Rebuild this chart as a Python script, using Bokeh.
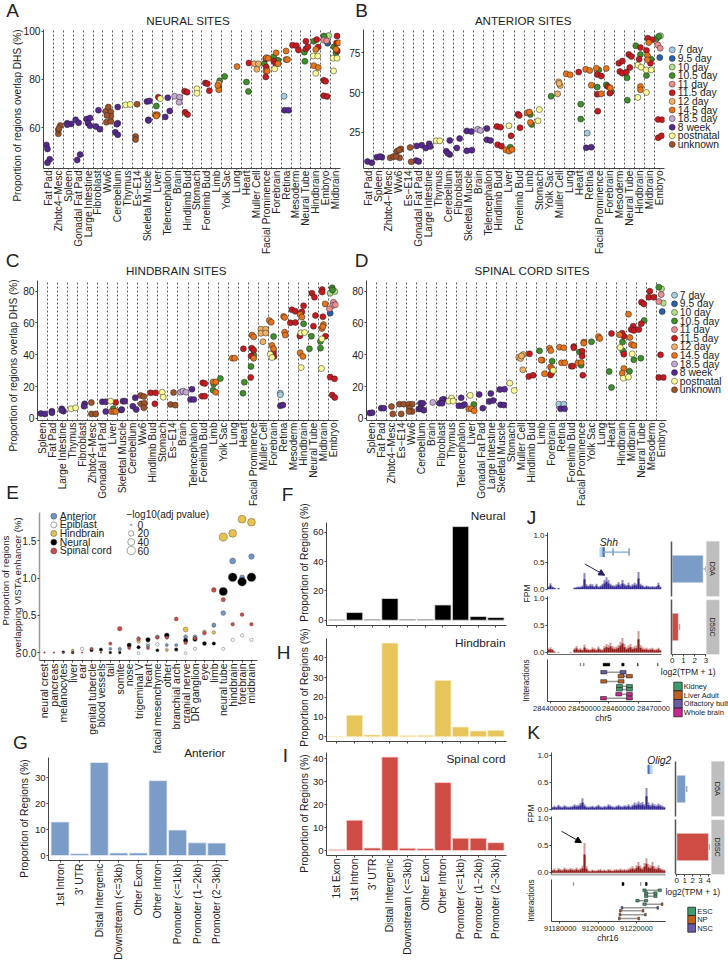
from math import pi, sqrt, nan
from bokeh.plotting import figure
from bokeh.layouts import column
from bokeh.models import Range1d, FixedTicker, Arrow, NormalHead, TeeHead, Whisker, ColumnDataSource
from bokeh.core.properties import value
from bokeh.embed import file_html
from bokeh.resources import INLINE

FONT = "Liberation Sans"
INK = "#222222"
PAGE = 0

STAGES = ["7 day", "9.5 day", "10 day", "10.5 day", "11 day", "11.5 day", "12 day", "14.5 day", "18.5 day", "8 week", "postnatal", "unknown"]
STAGE_COLORS = ["#A6CEE3", "#2B5FA8", "#B2DF8A", "#3F8F2A", "#EC8E92", "#C8191F", "#F2B266", "#E8741A", "#C6A9D4", "#56288F", "#FFFF99", "#A0522A"]

A_CATS = ["Fat Pad", "Zhbtc4−Mesc", "Spleen", "Gonadal Fat Pad", "Large Intestine", "Fibroblast", "Ww6", "Cerebellum", "Thymus", "Es−E14", "Skeletal Muscle", "Liver", "Telencephalon", "Brain", "Hindlimb Bud", "Stomach", "Forelimb Bud", "Limb", "Yolk Sac", "Lung", "Heart", "Muller Cell", "Facial Prominence", "Forebrain", "Retina", "Mesoderm", "Neural Tube", "Hindbrain", "Embryo", "Midbrain"]
B_CATS = ["Fat Pad", "Spleen", "Zhbtc4−Mesc", "Ww6", "Es−E14", "Gonadal Fat Pad", "Large Intestine", "Thymus", "Cerebellum", "Fibroblast", "Skeletal Muscle", "Brain", "Telencephalon", "Hindlimb Bud", "Liver", "Forelimb Bud", "Limb", "Stomach", "Yolk Sac", "Muller Cell", "Lung", "Heart", "Retina", "Facial Prominence", "Forebrain", "Mesoderm", "Neural Tube", "Hindbrain", "Midbrain", "Embryo"]
C_CATS = ["Spleen", "Fat Pad", "Large Intestine", "Thymus", "Fibroblast", "Zhbtc4−Mesc", "Gonadal Fat Pad", "Liver", "Skeletal Muscle", "Cerebellum", "Ww6", "Hindlimb Bud", "Stomach", "Es−E14", "Brain", "Telencephalon", "Forelimb Bud", "Limb", "Yolk Sac", "Lung", "Heart", "Facial Prominence", "Muller Cell", "Forebrain", "Retina", "Mesoderm", "Hindbrain", "Neural Tube", "Midbrain", "Embryo"]
D_CATS = ["Spleen", "Fat Pad", "Zhbtc4−Mesc", "Es−E14", "Ww6", "Cerebellum", "Brain", "Fibroblast", "Thymus", "Telencephalon", "Liver", "Gonadal Fat Pad", "Large Intestine", "Skeletal Muscle", "Stomach", "Muller Cell", "Hindlimb Bud", "Limb", "Forebrain", "Retina", "Forelimb Bud", "Facial Prominence", "Yolk Sac", "Lung", "Heart", "Hindbrain", "Midbrain", "Neural Tube", "Mesoderm", "Embryo"]

# (position along the category axis, % overlap DHS) by stage
A_POINTS = {
 "7 day": [(24.8, 73)],
 "9.5 day": [(29.2, 95)],
 "10 day": [(28.8, 98), (29.3, 98.2)],
 "10.5 day": [(11.9, 68.9), (18.2, 77), (18.3, 79.4), (18.8, 81.2), (21, 78.9), (21.2, 75), (22.8, 86.5), (23.75, 89.3), (24.2, 87.9), (26.85, 91.3), (26.9, 87.5), (27.8, 95.8), (28.85, 97.8), (29.85, 93.5), (30.05, 91)],
 "11 day": [(28.8, 96.3), (29.1, 96)],
 "11.5 day": [(12.1, 72.6), (14.75, 75.1), (15, 74.7), (14.8, 66.3), (15.05, 65.4), (16.85, 78.5), (17.05, 78.2), (17.25, 75.3), (21.25, 86.8), (22.95, 88.6), (23, 85.1), (22.95, 81), (23.75, 87.6), (23.95, 86.5), (25.65, 94.2), (26.05, 94), (26.25, 92.2), (27, 95.8), (27, 92.6), (27.2, 93.5), (28.1, 96.5), (28.25, 93.4), (28.8, 79.6), (29, 79.2), (28.8, 73.2), (29.15, 72.9), (30.15, 98), (30.1, 95.1), (30.2, 91.8)],
 "12 day": [(18.2, 78.3), (21.8, 86.5), (22.2, 86.5), (22.05, 84.2)],
 "14.5 day": [(11.8, 65.3), (12, 65.3), (11.9, 64.8), (18.2, 75.7), (18.1, 77.5), (20.05, 85.3), (23, 89), (23.2, 88.8), (22.95, 83.5), (23.1, 83.5), (24, 91), (24.2, 86.5), (25, 91.8), (25, 88.2), (25.15, 88.2), (28, 92.4), (27.8, 85.7), (28.25, 84.9), (30.3, 95.2), (30.05, 92.5)],
 "18.5 day": [(13.75, 73), (14.25, 72.6), (14.2, 70.5)],
 "8 week": [(0.8, 52.8), (0.9, 51.1), (1.13, 46.8), (0.9, 45.4), (2.9, 61.8), (3.3, 61.5), (2.9, 61.2), (3.75, 63.2), (4.05, 62), (3.9, 46.5), (4.2, 48.8), (4.85, 63.5), (5.2, 64), (5, 61.8), (5.2, 60.7), (5.8, 60.4), (6.2, 59.3), (6.05, 67.2), (8, 68.5), (7.75, 58), (8, 57), (8, 61.8), (7.9, 61.4), (10.95, 70.8), (11.2, 71), (11.1, 63.2), (11.1, 62.9), (13.05, 72.4), (12.8, 64.4), (13.25, 66.9), (24.85, 67.2), (25.25, 67.2)],
 "postnatal": [(8.8, 69.4), (9.25, 69.6), (12.3, 72), (16, 76.1), (16, 74.2), (23.85, 84.4), (27.75, 89.7), (28.2, 89.7), (28, 82.5), (29.75, 88.8), (30.15, 88.8), (29.8, 83.5)],
 "unknown": [(2, 57.4), (2, 59), (2.2, 60.8), (2.05, 59.6), (6.8, 66.8), (7.05, 68.5), (7.3, 66.5), (6.85, 62.2), (7.3, 62.6), (7.3, 64.7), (6.9, 65), (9.95, 69.7), (9.8, 56.3), (9.8, 55)],
}
B_POINTS = {
 "7 day": [(22.8, 24.6)],
 "9.5 day": [(30.03, 72)],
 "10 day": [(30.1, 85.7)],
 "10.5 day": [(15.13, 15.8), (17.13, 36.3), (17.26, 30), (19.2, 47.8), (22.15, 42.8), (22.15, 33.4), (23.95, 64.3), (23.8, 53.5), (24.7, 54.9), (25.2, 50.5), (26.77, 59.3), (26.8, 45.3), (27.64, 79.4), (28.1, 74), (29.17, 71), (28.7, 60.8), (29.7, 83.8), (29.93, 85.3)],
 "11 day": [(29.83, 80), (30.07, 77.9)],
 "11.5 day": [(13.8, 28.8), (14.15, 28.3), (13.87, 17.3), (14.25, 16.4), (15.2, 22.9), (15.9, 36.5), (16.03, 35.7), (16.1, 28), (21.95, 62.9), (23.8, 61.4), (24.2, 60.4), (23.8, 49), (23.85, 38.4), (24.85, 53.9), (25.05, 49.7), (25.95, 68.5), (26.3, 69.8), (26.05, 63.3), (26.3, 62.2), (26.94, 74), (27.2, 72.7), (27.04, 65.8), (26.7, 62.9), (28.1, 78.3), (27.97, 71), (28.83, 84.2), (28.7, 76.5), (29.1, 68.5), (29.27, 83.2), (29.87, 33.2), (30.27, 33), (29.87, 21.7), (30.2, 22.9)],
 "12 day": [(19.85, 49.3), (19.95, 56.8), (20.1, 54.5), (20.0, 55.8)],
 "14.5 day": [(14.7, 14.1), (15, 13.3), (15.3, 14.3), (16.8, 37.3), (17.03, 37.8), (17.13, 31.3), (20.7, 61.8), (21.1, 61.2), (22.65, 64.7), (23.05, 63.9), (23.7, 65.4), (23.2, 54.7), (24.2, 49.3), (24.7, 65.2), (25.1, 53), (28.1, 53.9), (28.1, 51.8), (28.93, 81.5), (28.8, 73.3), (28.8, 70.6)],
 "18.5 day": [(11.87, 27), (12.15, 26.3)],
 "8 week": [(0.9, 6.8), (1.33, 6), (1.83, 9.5), (2.33, 9.5), (2.15, 9.9), (5.8, 16.6), (6.3, 17), (5.75, 7.4), (6, 6.8), (7.05, 17.9), (6.7, 15.2), (7.15, 16.2), (9.1, 20), (8.75, 13.3), (9.1, 11.2), (8.9, 12), (10.08, 21.2), (9.8, 15.2), (10.8, 26), (11.25, 25.6), (10.8, 13.5), (11.3, 13.9), (12.8, 27.5), (12.8, 20.4), (13.15, 20), (22.7, 15.4), (23.2, 15.8)],
 "postnatal": [(7.75, 19.8), (8.1, 19.8), (15, 29.2), (18.03, 39.4), (17.9, 32.3), (27.84, 67.3), (28.17, 66), (27.84, 47), (28.67, 64.3), (29.17, 64.3), (28.7, 50.1)],
 "unknown": [(3.16, 9.1), (3.5, 9.9), (3.83, 13.3), (4.22, 14.7), (4.05, 13.9), (4.1, 9.1), (3.75, 10), (5.15, 15.6), (5.25, 6.6)],
}
C_POINTS = {
 "7 day": [(24.7, 15.9), (24.7, 14.9)],
 "9.5 day": [(29.67, 66.2)],
 "10 day": [(29.67, 78.7), (30.13, 79.8)],
 "10.5 day": [(8.06, 6.1), (18.07, 21.6), (18, 17.8), (18.73, 25.1), (21.12, 22.8), (20.98, 15.9), (22.05, 40), (21.78, 32.7), (24.03, 51.5), (27.02, 59.5), (27.8, 51.7), (27.6, 43.8), (28.7, 48.4), (28.7, 44.2), (29.87, 82.1), (29.9, 80.8)],
 "11 day": [(30, 73.1), (29.93, 71), (29.6, 68.9), (30.2, 71.5)],
 "11.5 day": [(8.29, 10.1), (11.77, 16.1), (12.27, 16.1), (12.2, 9.2), (16.97, 22.4), (17.17, 22), (16.9, 14), (17.17, 14), (21.02, 43.8), (21.85, 44.2), (22.05, 42.9), (21.78, 39.2), (21.75, 25.8), (24.03, 41.7), (24.07, 39), (25.86, 68.3), (26.2, 67.4), (25.7, 60.1), (26.2, 60.3), (27.02, 70.8), (26.85, 67), (26.65, 51.9), (27.85, 78.7), (28.1, 76.2), (28.2, 64.7), (28, 58), (28.87, 81), (28.87, 79.4), (28.94, 63.9), (29.2, 51.7), (29.67, 26), (30.1, 24.9), (29.87, 14.7), (30.13, 13.2)],
 "12 day": [(22.77, 56.1), (23.24, 56.1), (22.77, 53.5), (23.24, 53.7), (22.97, 48.2)],
 "14.5 day": [(7.86, 4.4), (8.1, 4.4), (8.3, 4.4), (18, 23), (18.27, 23), (18.27, 16.5), (19.92, 37.9), (20.15, 37.9), (21.88, 52.4), (22.05, 51.3), (22.05, 37.9), (23.6, 61.6), (23.8, 60.5), (23.87, 45.9), (24.03, 43.8), (25.03, 64.1), (25.13, 63.5), (25.13, 54.2), (25.2, 52.4), (26.68, 65.3), (26.85, 63.7), (26.68, 41.3), (26.95, 39), (29.17, 72), (29, 59), (28.84, 56.5), (28.94, 57.7)],
 "18.5 day": [(14.75, 16.5), (15, 17.2), (15.3, 16.5)],
 "8 week": [(0.83, 3.1), (1.23, 2.9), (1.93, 4.6), (1.93, 3.6), (2.92, 6.1), (3.09, 4.6), (2.9, 5.2), (5.2, 9.2), (5.14, 7.7), (6.96, 10.5), (7.3, 10.5), (7.3, 4.4), (9.02, 10.9), (9.2, 10.9), (8.85, 5.4), (8.9, 5.6), (10.24, 13), (10, 7.7), (10.34, 5.6), (15.9, 18.4), (15.75, 11.9), (16.08, 11.9), (24.7, 8), (24.96, 8.4)],
 "postnatal": [(3.85, 6.1), (4.3, 6.7), (7.79, 10.9), (12.93, 16.5), (13.03, 13.4), (23.7, 40.4), (23.87, 38.3), (26.75, 53.8), (27.12, 54), (26.78, 32), (28.84, 50), (28.8, 31.4)],
 "unknown": [(5.87, 10), (5.87, 2.9), (6.3, 2.9), (10.77, 14.5), (11.1, 13.8), (10.84, 9.2), (11.17, 9.6), (11.1, 6.7), (14.06, 16.3), (13.76, 8.8), (14.22, 8.4)],
}
D_POINTS = {
 "7 day": [(19.73, 9), (20.23, 9)],
 "9.5 day": [(30.07, 67.2)],
 "10 day": [(30, 81.5), (30.2, 72.5)],
 "10.5 day": [(11.23, 8.8), (17.8, 42.5), (19.07, 36), (19, 28.5), (21.8, 41.7), (21.97, 33.5), (23, 48.2), (24.77, 29.5), (25, 19.5), (26.1, 48), (26.13, 42.5), (27.23, 36.9), (26.8, 29.7), (28.27, 61.6), (27.93, 37.9), (29.73, 82.5)],
 "11 day": [(29.97, 77.9), (29.73, 73.5)],
 "11.5 day": [(16.8, 40.6), (16.73, 26.4), (17.17, 27.2), (18.9, 27.4), (21.23, 45.2), (21.23, 44.4), (20.97, 32.9), (21.13, 32.9), (22.07, 42.3), (22.07, 39.2), (22.13, 27.2), (25, 53.4), (26.07, 53.6), (26.23, 51.7), (26.23, 40.4), (27.17, 58), (26.97, 55.9), (27.23, 55.3), (27.73, 55.9), (27.97, 59.5), (28, 73.1), (28.23, 72), (28.73, 76.2), (28.83, 80), (29.23, 76.2), (29.9, 40), (29.73, 25.8), (30.2, 25.8)],
 "12 day": [(16.13, 30.6), (15.73, 38.5), (15.9, 37.7), (16.17, 40.2), (16, 39.3)],
 "14.5 day": [(10.73, 6.1), (11, 6.1), (11.27, 4.8), (18.07, 36.6), (17.97, 36.8), (18.3, 28.1), (18.8, 44.2), (18.93, 42.7), (18.9, 32.3), (19.05, 31.3), (19.8, 44.8), (20.23, 44.4), (20, 35), (20.33, 35), (22.23, 48), (22.23, 47.3), (21.63, 34.8), (21.97, 35.2), (23.7, 51.5), (23.83, 50.3), (25.8, 52.6), (26.23, 31.4), (26.07, 28.5), (26.7, 65.5), (26.83, 50.9), (27, 46.5), (27.23, 45.9)],
 "18.5 day": [(7.13, 10.1)],
 "8 week": [(0.83, 3.4), (1.07, 3.6), (1.97, 6.5), (2.23, 6.5), (5.9, 9.6), (6.13, 9.6), (5.73, 5.9), (5.97, 6.1), (6.23, 5.2), (8.23, 12.1), (8.07, 11.7), (7.8, 9.6), (8.07, 9.6), (9.97, 13), (9.73, 8), (10.07, 8), (10.3, 8.8), (11.77, 15.1), (12.13, 6.5), (12.93, 15.7), (12.77, 10.7), (13.17, 11.3), (13.83, 18.2), (14.3, 18.4), (13.9, 8.6), (14.23, 8.4), (19.9, 6.1), (20.3, 6.1)],
 "postnatal": [(9, 12.8), (8.73, 10.9), (9.17, 10.9), (10.87, 14.5), (14.83, 22.2), (15.27, 17.6), (19.17, 30.2), (25.87, 44.6), (26.17, 25.3), (27.07, 40.6), (26.7, 26)],
 "unknown": [(3, 7.5), (3.13, 2.9), (3.8, 9), (4.23, 9), (3.97, 2.9), (4.73, 9), (5.07, 9), (4.8, 6.5), (5.07, 4.4), (4.75, 4.4)],
}

E_CATS = ["neural crest", "pancreas", "melanocytes", "liver", "ear", "genital tubercle", "blood vessels", "tail", "somite", "nose", "trigeminal V", "heart", "facial mesenchyme", "other", "branchial arch", "cranial nerve", "DR ganglion", "eye", "limb", "neural tube", "hindbrain", "forebrain", "midbrain"]
E_SERIES = ["Anterior", "Epiblast", "Hindbrain", "Neural", "Spinal cord"]
E_COLORS = ["#6F98C8", "#FFFFFF", "#E8C24F", "#000000", "#CF4A44"]
E_ANTERIOR = [nan, nan, nan, nan, nan, .04, .04, .05, .05, .085, .19, .09, .21, .1, .1, .21, .21, nan, .37, .53, 1.23, 1.01, 1.29]
E_ANTERIOR_P = [0, 0, 0, 0, 0, 2, 2, 2, 3, 4, 5, 3, 8, 3, 3, 8, 8, 0, 8, 14, 25, 15, 22]
E_EPIBLAST = [nan, nan, nan, nan, .05, nan, nan, nan, .035, nan, -.01, .11, .11, .04, nan, -.01, .05, nan, .36, .05, .17, .23, .17]
E_EPIBLAST_P = [0, 0, 0, 0, 5, 0, 0, 0, 3, 0, 2, 5, 5, 3, 0, 2, 4, 0, 5, 3, 4, 4, 4]
E_HINDBRAIN = [nan, nan, nan, .03, nan, nan, .03, nan, nan, nan, .15, nan, nan, .03, nan, .31, nan, .28, .27, 1.55, 1.6, 1.79, 1.75]
E_HINDBRAIN_P = [0, 0, 0, 1, 0, 0, 1, 0, 0, 0, 5, 0, 0, 1, 0, 15, 0, 5, 5, 60, 55, 55, 55]
E_NEURAL = [nan, nan, .005, 0, nan, .03, .04, 0, 0, .1, .07, .17, .03, .23, .04, .16, .18, .12, .12, .82, 1.01, .95, 1.01]
E_NEURAL_P = [0, 0, 2, 2, 0, 3, 3, 2, 2, 10, 5, 12, 3, 15, 5, 12, 12, 8, 5, 60, 70, 70, 70]
E_SPINAL = [0, 0, 0, 0, 0, .05, 0, .12, .32, .06, .18, .06, .2, .2, .45, .13, .19, .26, .84, .71, .38, .51, .38]
E_SPINAL_P = [0, 0, 0, 0, 0, 3, 0, 4, 12, 3, 5, 3, 5, 5, 8, 4, 5, 6, 14, 10, 6, 7, 6]
E_P_LEGEND = [0, 20, 40, 60]

G_CATS = ["1st Intron", "3' UTR", "Distal Intergenic", "Downstream (<=3kb)", "Other Exon", "Other Intron", "Promoter (<=1kb)", "Promoter (1−2kb)", "Promoter (2−3kb)"]
G_VALUES = [12.9, .7, 35.8, 1, 1, 28.8, 9.8, 4.9, 4.8]
FHI_CATS = ["1st Exon", "1st Intron", "3' UTR", "Distal Intergenic", "Downstream (<=3kb)", "Other Exon", "Other Intron", "Promoter (<=1kb)", "Promoter (1−2kb)", "Promoter (2−3kb)"]
F_VALUES = [.5, 5.2, .6, 14.8, .6, .6, 10.4, 63.8, 2.5, 1.8]
H_VALUES = [.3, 11, 1, 47.5, .7, .8, 28.6, 5, 3, 3.3]
I_VALUES = [.4, 13.2, 1.1, 40.7, 1, .8, 29.6, 5.4, 5.4, 3.4]

J_D5A = [.05, .11, .05, .03, 0, .02, 0, 0, 0, 0, 0, 0, 0, .03, .04, .05, .05, .07, .3, .09, .07, .1, .09, .06, .1, .05, .07, .1, .17, .22, .17, .1, .08, .07, .09, .13, .09, .17, .1, .08, .12, .07, .09, .12, .1, .32, .1, .08, .05, .07, .06, .05, .06, .05, .06, .12, .05]
J_D5SC = [.08, .1, .07, .02, 0, .01, 0, 0, 0, 0, 0, .01, 0, .08, .12, .07, .08, .06, .15, .08, .07, .06, .1, .08, .06, .11, .07, .06, .12, .16, .14, .18, .12, .1, .11, .14, .2, .27, .16, .1, .13, .16, .1, .12, .13, .4, .14, .1, .08, .09, .07, .08, .09, .06, .07, .09, .05]
K_D5A = [.05, .07, .05, .09, .06, .05, .08, .06, .05, .06, .07, .1, .08, .09, .12, .21, .1, .06, .05, .06, .07, .05, .07, .09, .06, .05, .07, .06, .1, .08, .06, .05, .07, .09, .07, .06, .08, .07, .1, .06, .09, .13, .11, .15, .12, .14, .1, .4, .13, .09, .12, .1, .08, .11, .09, .07, .05]
K_D5SC = [.06, .08, .05, .09, .07, .06, .1, .08, .07, .09, .08, .07, .1, .07, .09, .13, .55, .12, .05, .04, .06, .05, .05, .06, .07, .05, .06, .05, .07, .06, .05, .06, .07, .06, .08, .06, .07, .06, .08, .1, .12, .09, .14, .2, .13, .1, .18, .27, .16, .14, .2, .12, .1, .14, .09, .07, .06]

J_XLIM = (28439113, 28477982)
K_XLIM = (91175654, 91235340)
J_XTICKS = [28440000, 28450000, 28460000, 28470000]
K_XTICKS = [91180000, 91200000, 91220000]

J_TPM = [2.75, .55]
J_TPM_LOW = [2.55, .35]
J_TPM_HIGH = [3.0, .65]
K_TPM = [1.1, 4.0]
K_TPM_LOW = [.95, 3.85]
K_TPM_HIGH = [1.25, 4.1]

J_LINK_ROW = [1, 2, 3.3, 4.5, 5.3, 6.5, 7.5]
J_LINK_A = [28458295, 28464205, 28458295, 28463636, 28463636, 28463409, 28458182]
J_LINK_B = [28464886, 28467045, 28464205, 28467045, 28467045, 28467045, 28467045]
J_LINK_TISSUE = ["Olfactory bulb", "Liver Adult", "Liver Adult", "Kidney", "Kidney", "Whole brain", "Whole brain"]
J_PEAK_START = [28450227, 28451364, 28458068, 28464432, 28469773, 28476590]
J_PEAK_END = [28450457, 28451594, 28460341, 28465227, 28470003, 28476820]
J_PEAK_TONE = ["#777777", "#777777", "#000000", "#000000", "#222222", "#555555"]
J_TISSUES = ["Kidney", "Liver Adult", "Olfactory bulb", "Whole brain"]
J_TISSUE_COLORS = ["#3F9B6E", "#C1601C", "#6A5AA8", "#C9278E"]

K_LINK_ROW = [1, 2, 3, 4.5, 5.7, 6.9, 7.9, 9.2, 10.5]
K_LINK_A = [91224323, 91225195, 91225195, 91220659, 91224323, 91212564, 91211692, 91211517, 91211168]
K_LINK_B = [91232350, 91230080, 91230080, 91225195, 91233571, 91231303, 91223625, 91224846, 91221356]
K_LINK_TISSUE_A = ["ESC", "ESC", "ESC", "ESC", "ESC", "NSC", "NP", "NP", "NP"]
K_LINK_TISSUE_B = ["ESC", "ESC", "ESC", "ESC", "NP", "NSC", "NP", "NP", "NP"]
K_PEAK_START = [91187045, 91212564, 91222300, 91224846]
K_PEAK_END = [91187265, 91213611, 91222520, 91225719]
K_PEAK_TONE = ["#777777", "#000000", "#777777", "#000000"]
K_TISSUES = ["ESC", "NP", "NSC"]
K_TISSUE_COLORS = ["#3F9B6E", "#C1601C", "#6A5AA8"]

figs = []


def panel(left, top, fw, fh, xr, yr, pl=36, pr=6, pt=6, pb=26):
    w, h = pl + fw + pr, pt + fh + pb
    p = figure(width=w, height=h, x_range=Range1d(*xr), y_range=Range1d(*yr),
               toolbar_location=None, output_backend="svg", frame_align=False,
               min_border_left=pl, min_border_right=pr, min_border_top=pt, min_border_bottom=pb,
               background_fill_alpha=0, border_fill_alpha=0, outline_line_color=None)
    mt, ml = top - pt - PAGE, left - pl - PAGE
    p.margin = (mt, 0, -(mt + h), ml)
    p.grid.visible = False
    for ax in (p.xaxis[0], p.yaxis[0]):
        ax.axis_line_color = "#444444"
        ax.axis_line_width = 1
        ax.major_tick_line_color = "#444444"
        ax.major_tick_out = 2
        ax.major_tick_in = 0
        ax.minor_tick_line_color = None
        ax.major_label_text_font = FONT
        ax.major_label_text_font_size = "10.2px"
        ax.major_label_text_color = INK
        ax.major_label_standoff = 1
    figs.append(p)
    return p


def set_ticks(ax, ticks, labels=None):
    ax.ticker = FixedTicker(ticks=ticks)
    if labels is not None:
        ax.major_label_overrides = {t: l for t, l in zip(ticks, labels)}


def strip_panel(left, top, fw, fh, cats, points, yr, yticks):
    p = panel(left, top, fw, fh, (0.5, len(cats) + 0.5), yr, pb=100)
    set_ticks(p.xaxis[0], list(range(1, len(cats) + 1)), cats)
    p.xaxis[0].major_label_orientation = pi / 2
    p.xaxis[0].major_label_text_font_size = "10.1px"
    p.xaxis[0].major_tick_out = 1
    set_ticks(p.yaxis[0], yticks)
    grid = p.xgrid[0]
    grid.visible = True
    grid.ticker = FixedTicker(ticks=[k + 0.5 for k in range(1, len(cats) + 1)])
    grid.grid_line_color = "#333333"
    grid.grid_line_dash = "2 2"
    grid.grid_line_width = 0.8
    for stage, color in zip(STAGES, STAGE_COLORS):
        pts = points.get(stage, [])
        if pts:
            p.scatter([a for a, _ in pts], [b for _, b in pts], size=6, marker="circle",
                      fill_color=color, line_color="#222222", line_width=0.5)
    return p


strip_panel(43, 29, 297, 139, A_CATS, A_POINTS, (43.0, 100.7), [60, 80, 100])
strip_panel(363, 29, 301, 139, B_CATS, B_POINTS, (2.4, 89.65), [25, 50, 75])
strip_panel(37, 280, 301, 140, C_CATS, C_POINTS, (-1.26, 86.7), [0, 20, 40, 60, 80])
strip_panel(366, 280, 300, 140, D_CATS, D_POINTS, (-1.26, 86.7), [0, 20, 40, 60, 80])


def p_size(v):
    return 1.6 + 6.5 * sqrt(v / 60)


pe = panel(39, 512, 218, 148, (0.47, 23.64), (-0.107, 1.88), pb=100)
set_ticks(pe.xaxis[0], list(range(1, 24)), E_CATS)
pe.xaxis[0].major_label_orientation = pi / 2
pe.xaxis[0].major_label_text_font_size = "10.5px"
set_ticks(pe.yaxis[0], [0, 0.5, 1.0, 1.5], ["0.0", "0.5", "1.0", "1.5"])
pe.yaxis[0].axis_line_color = "#999999"
pe.yaxis[0].axis_line_width = 1.5
e_x = list(range(1, 24))
for vals, ps, color in zip([E_EPIBLAST, E_ANTERIOR, E_HINDBRAIN, E_NEURAL, E_SPINAL],
                           [E_EPIBLAST_P, E_ANTERIOR_P, E_HINDBRAIN_P, E_NEURAL_P, E_SPINAL_P],
                           [E_COLORS[1], E_COLORS[0], E_COLORS[2], E_COLORS[3], E_COLORS[4]]):
    pe.scatter(e_x, vals, size=[p_size(v) for v in ps], marker="circle", fill_color=color,
               line_color="#444444", line_width=0.4)


def bar_panel(left, top, fw, fh, cats, vals, color, edge, yr, yticks, labels):
    n = len(cats)
    p = panel(left, top, fw, fh, (0.41, n + 0.6), yr, pb=105 if labels else 14)
    xs = list(range(1, n + 1))
    set_ticks(p.xaxis[0], xs, cats if labels else [""] * n)
    p.xaxis[0].major_label_orientation = pi / 2
    p.xaxis[0].major_label_text_font_size = "10.3px"
    set_ticks(p.yaxis[0], yticks)
    p.yaxis[0].major_label_text_font_size = "9.5px"
    p.vbar(x=xs, top=vals, bottom=0, width=0.92, fill_color=color, line_color=edge, line_width=0.8)
    return p


bar_panel(48, 757, 180, 103, G_CATS, G_VALUES, "#7A9CC6", "#E4EAF3", (-1.9, 37.7), [0, 10, 20, 30], True)
bar_panel(326, 522, 180, 103, FHI_CATS, F_VALUES, "#000000", "#DDDDDD", (-3.6, 66.6), [0, 20, 40, 60], False)
bar_panel(326, 638, 180, 103, FHI_CATS, H_VALUES, "#E8C55A", "#FBF1D2", (-2.35, 49.8), [0, 10, 20, 30, 40], False)
bar_panel(326, 752, 180, 103, FHI_CATS, I_VALUES, "#CF4C45", "#F6D5D3", (-2.16, 42.7), [0, 10, 20, 30, 40], True)


def track(left, top, fw, fh, xlim, yr, vals, dark, light, base_color):
    p = panel(left, top, fw, fh, xlim, yr, pb=6)
    p.xaxis[0].axis_line_color = base_color
    p.xaxis[0].major_tick_line_color = None
    p.xaxis[0].major_label_text_font_size = "0px"
    p.xaxis[0].major_label_text_color = None
    set_ticks(p.xaxis[0], [])
    set_ticks(p.yaxis[0], [0, 0.5, 1.0], ["0.0", "0.5", "1.0"])
    p.yaxis[0].major_label_text_font_size = "8px"
    bw = (xlim[1] - xlim[0]) / len(vals)
    xs = [xlim[0] + (i + 0.5) * bw for i in range(len(vals))]
    p.vbar(x=xs, top=vals, width=bw, fill_color=light, line_color=None)
    p.vbar(x=xs, top=[v * 0.62 for v in vals], width=bw, fill_color=dark, line_color=None)
    return p


pj1 = track(547, 532, 114, 57, J_XLIM, (-0.006, 1.055), J_D5A, "#33288C", "#8D87C2", None)
pj2 = track(547, 596, 114, 58, J_XLIM, (-0.037, 1.043), J_D5SC, "#8A1C1C", "#D39A96", "#666666")
pk1 = track(551, 752, 114, 58, K_XLIM, (-0.018, 1.056), K_D5A, "#33288C", "#8D87C2", None)
pk2 = track(551, 816, 114, 58, K_XLIM, (-0.031, 1.043), K_D5SC, "#8A1C1C", "#D39A96", "#AAAAAA")
pk2.xaxis[0].axis_line_width = 2

SHH_EXON_A = [28456818, 28457840, 28461250, 28466700]
SHH_EXON_B = [28457840, 28458636, 28461700, 28467150]
pj1.quad(left=SHH_EXON_A, right=SHH_EXON_B, bottom=[.6, .6, .62, .62], top=[.78, .78, .76, .76],
         fill_color=["#B5D3EA", "#3C73B5", "#5C8FC4", "#5C8FC4"], line_color=None)
pj1.segment(x0=[28458000], x1=[28466900], y0=[.69], y1=[.69], line_color="#7FA6D0", line_width=1.2)
pj1.add_layout(Arrow(end=NormalHead(size=6, fill_color="#26205F", line_color="#26205F"),
                     x_start=28451818, y_start=.47, x_end=28458636, y_end=.26,
                     line_color="#26205F", line_width=1))
pk1.quad(left=[91225916, 91227120], right=[91227120, 91228534], bottom=[.66, .66], top=[.83, .83],
         fill_color=["#3C73B5", "#B5D3EA"], line_color=None)
pk2.add_layout(Arrow(end=NormalHead(size=6, fill_color="#000000", line_color="#000000"),
                     x_start=91180890, y_start=.77, x_end=91191360, y_end=.56,
                     line_color="#222222", line_width=1))


def interactions(left, top, fw, fh, xlim, yr, xticks):
    p = panel(left, top, fw, fh, xlim, yr, pb=8)
    set_ticks(p.xaxis[0], xticks, [""] * len(xticks))
    set_ticks(p.yaxis[0], [])
    p.yaxis[0].major_tick_line_color = None
    return p


pji = interactions(547, 659, 114, 42, J_XLIM, (8.33, -2.17), J_XTICKS)
pji.quad(left=J_PEAK_START, right=J_PEAK_END, bottom=[-1.25] * 6, top=[-.55] * 6,
         fill_color=J_PEAK_TONE, line_color=J_PEAK_TONE, line_width=0.5)
pji.segment(x0=J_LINK_A, x1=J_LINK_B, y0=J_LINK_ROW, y1=J_LINK_ROW, line_color="#999999", line_width=1.5)
J_CMAP = dict(zip(J_TISSUES, J_TISSUE_COLORS))
for anchors in (J_LINK_A, J_LINK_B):
    pji.rect(x=anchors, y=J_LINK_ROW, width=2000, height=0.85,
             fill_color=[J_CMAP[t] for t in J_LINK_TISSUE], line_color="#222222", line_width=0.6)

pki = interactions(551, 879, 114, 42, K_XLIM, (11.5, -2.6), K_XTICKS)
pki.quad(left=K_PEAK_START, right=K_PEAK_END, bottom=[-1.6] * 4, top=[-.6] * 4,
         fill_color=K_PEAK_TONE, line_color=K_PEAK_TONE, line_width=0.5)
pki.segment(x0=K_LINK_A, x1=K_LINK_B, y0=K_LINK_ROW, y1=K_LINK_ROW, line_color="#999999", line_width=1.5)
K_CMAP = dict(zip(K_TISSUES, K_TISSUE_COLORS))
for anchors, tissues in ((K_LINK_A, K_LINK_TISSUE_A), (K_LINK_B, K_LINK_TISSUE_B)):
    pki.rect(x=anchors, y=K_LINK_ROW, width=[1700 if t == "ESC" else 900 for t in tissues], height=0.9,
             fill_color=[K_CMAP[t] for t in tissues], line_color="#222222", line_width=0.5)


def expr(left, top, fw, fh, xr, val, low, high, color, xticks, show_x):
    p = panel(left, top, fw, fh, xr, (0, 1), pb=16 if show_x else 4, pl=8)
    p.yaxis[0].axis_line_color = "#555555"
    p.yaxis[0].axis_line_width = 1.5
    set_ticks(p.yaxis[0], [])
    p.yaxis[0].major_tick_line_color = None
    if show_x:
        set_ticks(p.xaxis[0], xticks)
        p.xaxis[0].major_label_text_font_size = "8px"
        p.xaxis[0].axis_line_color = "#555555"
    else:
        p.xaxis.visible = False
    p.hbar(y=[0.5], left=0, right=[val], height=0.5, fill_color=color, line_color="#EEEEEE", line_width=0.6)
    src = ColumnDataSource(data=dict(y=[0.5], lo=[low], hi=[high]))
    p.add_layout(Whisker(source=src, base="y", lower="lo", upper="hi", dimension="width",
                         line_color="#AAAAAA", line_width=1.5,
                         lower_head=TeeHead(size=6, line_color="#AAAAAA", line_width=1.5),
                         upper_head=TeeHead(size=6, line_color="#AAAAAA", line_width=1.5)))
    return p


expr(671, 541, 35, 55, (-.06, 3.05), J_TPM[0], J_TPM_LOW[0], J_TPM_HIGH[0], "#7A9CC6", [0, 1, 2, 3], False)
expr(671, 599, 35, 55, (-.06, 3.05), J_TPM[1], J_TPM_LOW[1], J_TPM_HIGH[1], "#CF4C45", [0, 1, 2, 3], True)
expr(675, 761, 35, 55, (-.17, 4.26), K_TPM[0], K_TPM_LOW[0], K_TPM_HIGH[0], "#7A9CC6", [0, 1, 2, 3, 4], False)
expr(675, 819, 35, 55, (-.17, 4.26), K_TPM[1], K_TPM_LOW[1], K_TPM_HIGH[1], "#CF4C45", [0, 1, 2, 3, 4], True)

ov = figure(width=728, height=960, x_range=Range1d(0, 728), y_range=Range1d(960, 0),
            x_axis_type=None, y_axis_type=None, frame_align=False,
            toolbar_location=None, output_backend="svg",
            min_border_left=0, min_border_right=0, min_border_top=0, min_border_bottom=0,
            background_fill_alpha=0, border_fill_alpha=0, outline_line_color=None)
ov.margin = (-PAGE, 0, -(960 - PAGE), -PAGE)
ov.grid.visible = False


def label(x, y, txt, size, angle=0, align="center", style="normal", color=INK):
    ov.text([x], [y], text=[txt], text_font=value(FONT), text_font_size=f"{size}px",
            angle=angle, text_align=align, text_baseline="middle", text_font_style=style, text_color=color)


for x, y, t in [(12, 10, "A"), (361, 10, "B"), (12, 260, "C"), (361, 260, "D"), (12, 492, "E"), (287, 494, "F"),
                (20, 742, "G"), (283, 652, "H"), (285, 755, "I"), (531, 517, "J"), (533, 732, "K")]:
    label(x, y, t, 19)
for x, y, t in [(187.7, 20, "NEURAL SITES"), (522.7, 20, "ANTERIOR SITES"), (175.7, 270, "HINDBRAIN SITES"), (531.7, 270, "SPINAL CORD SITES")]:
    label(x, y, t, 11.6)
label(17, 115, "Proportion of regions overlap DHS (%)", 10.1, pi / 2)
label(12.7, 365, "Proportion of regions overlap DHS (%)", 10.1, pi / 2)
label(5, 580, "Proportion of regions", 9.7, pi / 2)
label(16.7, 586.7, "overlapping VISTA enhancer (%)", 9.7, pi / 2)
for x, y in [(304.3, 562), (304.3, 687), (304.3, 813), (24, 818)]:
    label(x, y, "Proportion of Regions (%)", 10.3, pi / 2)
for y, t, x in [(515, "Neural", 505), (642, "Hindbrain", 505), (758, "Spinal cord", 505), (752.3, "Anterior", 225)]:
    label(x, y, t, 11.8, align="right")

for cx, tx, y0 in [(671.7, 677.3, 49.3), (674, 679.3, 294.7)]:
    ys = [y0 + i * 8.6 for i in range(len(STAGES))]
    ov.scatter([cx] * len(STAGES), ys, size=6, marker="circle", fill_color=STAGE_COLORS, line_color="#222222", line_width=0.5)
    ov.text([tx] * len(STAGES), ys, text=STAGES, text_font=value(FONT), text_font_size="10.3px",
            text_baseline="middle", text_color=INK)

ys = [515.7 + i * 8.67 for i in range(5)]
ov.scatter([53.3] * 5, ys, size=6, marker="circle", fill_color=E_COLORS, line_color="#444444", line_width=0.5)
ov.text([59.3] * 5, ys, text=E_SERIES, text_font=value(FONT), text_font_size="10.4px", text_baseline="middle", text_color=INK)
label(126, 514, "−log10(adj pvalue)", 10, align="left")
ys = [524.3 + i * 8.6 for i in range(4)]
ov.scatter([130.7] * 4, ys, size=[p_size(v) for v in E_P_LEGEND], marker="circle", fill_color="#FFFFFF", line_color="#444444", line_width=0.5)
ov.text([137] * 4, ys, text=[str(v) for v in E_P_LEGEND], text_font=value(FONT), text_font_size="10.4px", text_baseline="middle", text_color=INK)

for x0, y0, y1, t in [(705.7, 540.7, 596, "D5A"), (705.7, 599.3, 654, "D5SC"), (710.7, 760.7, 816, "D5A"), (710.7, 819.3, 874, "D5SC")]:
    ov.quad(left=[x0], right=[x0 + 13.3], top=[y0], bottom=[y1], fill_color="#BEBEBE", line_color="#EEEEEE", line_width=0.5)
    label(x0 + 6.6, (y0 + y1) / 2, t, 7.2, -pi / 2)

label(526, 593, "FPM", 8.5, pi / 2)
label(530.7, 813, "FPM", 8.5, pi / 2)
label(526, 680, "Interactions", 8.2, pi / 2)
label(530.7, 900, "Interactions", 8.2, pi / 2)
label(608.3, 542.3, "Shh", 10.3, style="italic")
label(658.7, 760, "Olig2", 10.3, style="italic")
label(603, 717, "chr5", 8.5)
label(607.3, 937.3, "chr16", 8.5)
label(687.7, 671, "log2(TPM + 1)", 8.6)
label(692.3, 891.7, "log2(TPM + 1)", 8.6)
for x, t in zip([549, 584, 618, 653], J_XTICKS):
    label(x, 707.7, str(t), 7.4)
for x, t in zip([559.7, 597.7, 636], K_XTICKS):
    label(x, 927.7, str(t), 7.4)

for i, (t, c) in enumerate(zip(J_TISSUES, J_TISSUE_COLORS)):
    top = 681.7 + i * 8.65
    ov.quad(left=[673.3], right=[681.7], top=[top], bottom=[top + 8.65], fill_color=c, line_color="#222222", line_width=0.8)
    label(683.3, top + 4.3, t, 7.5, align="left")
for i, (t, c) in enumerate(zip(K_TISSUES, K_TISSUE_COLORS)):
    top = 906.7 + i * 8.33
    ov.quad(left=[687.3], right=[695], top=[top], bottom=[top + 8.33], fill_color=c, line_color="#222222", line_width=0.8)
    label(696.7, top + 4.2, t, 7.5, align="left")

figs.append(ov)
root = column(*figs)
open("out.html", "w").write(file_html(root, INLINE))
